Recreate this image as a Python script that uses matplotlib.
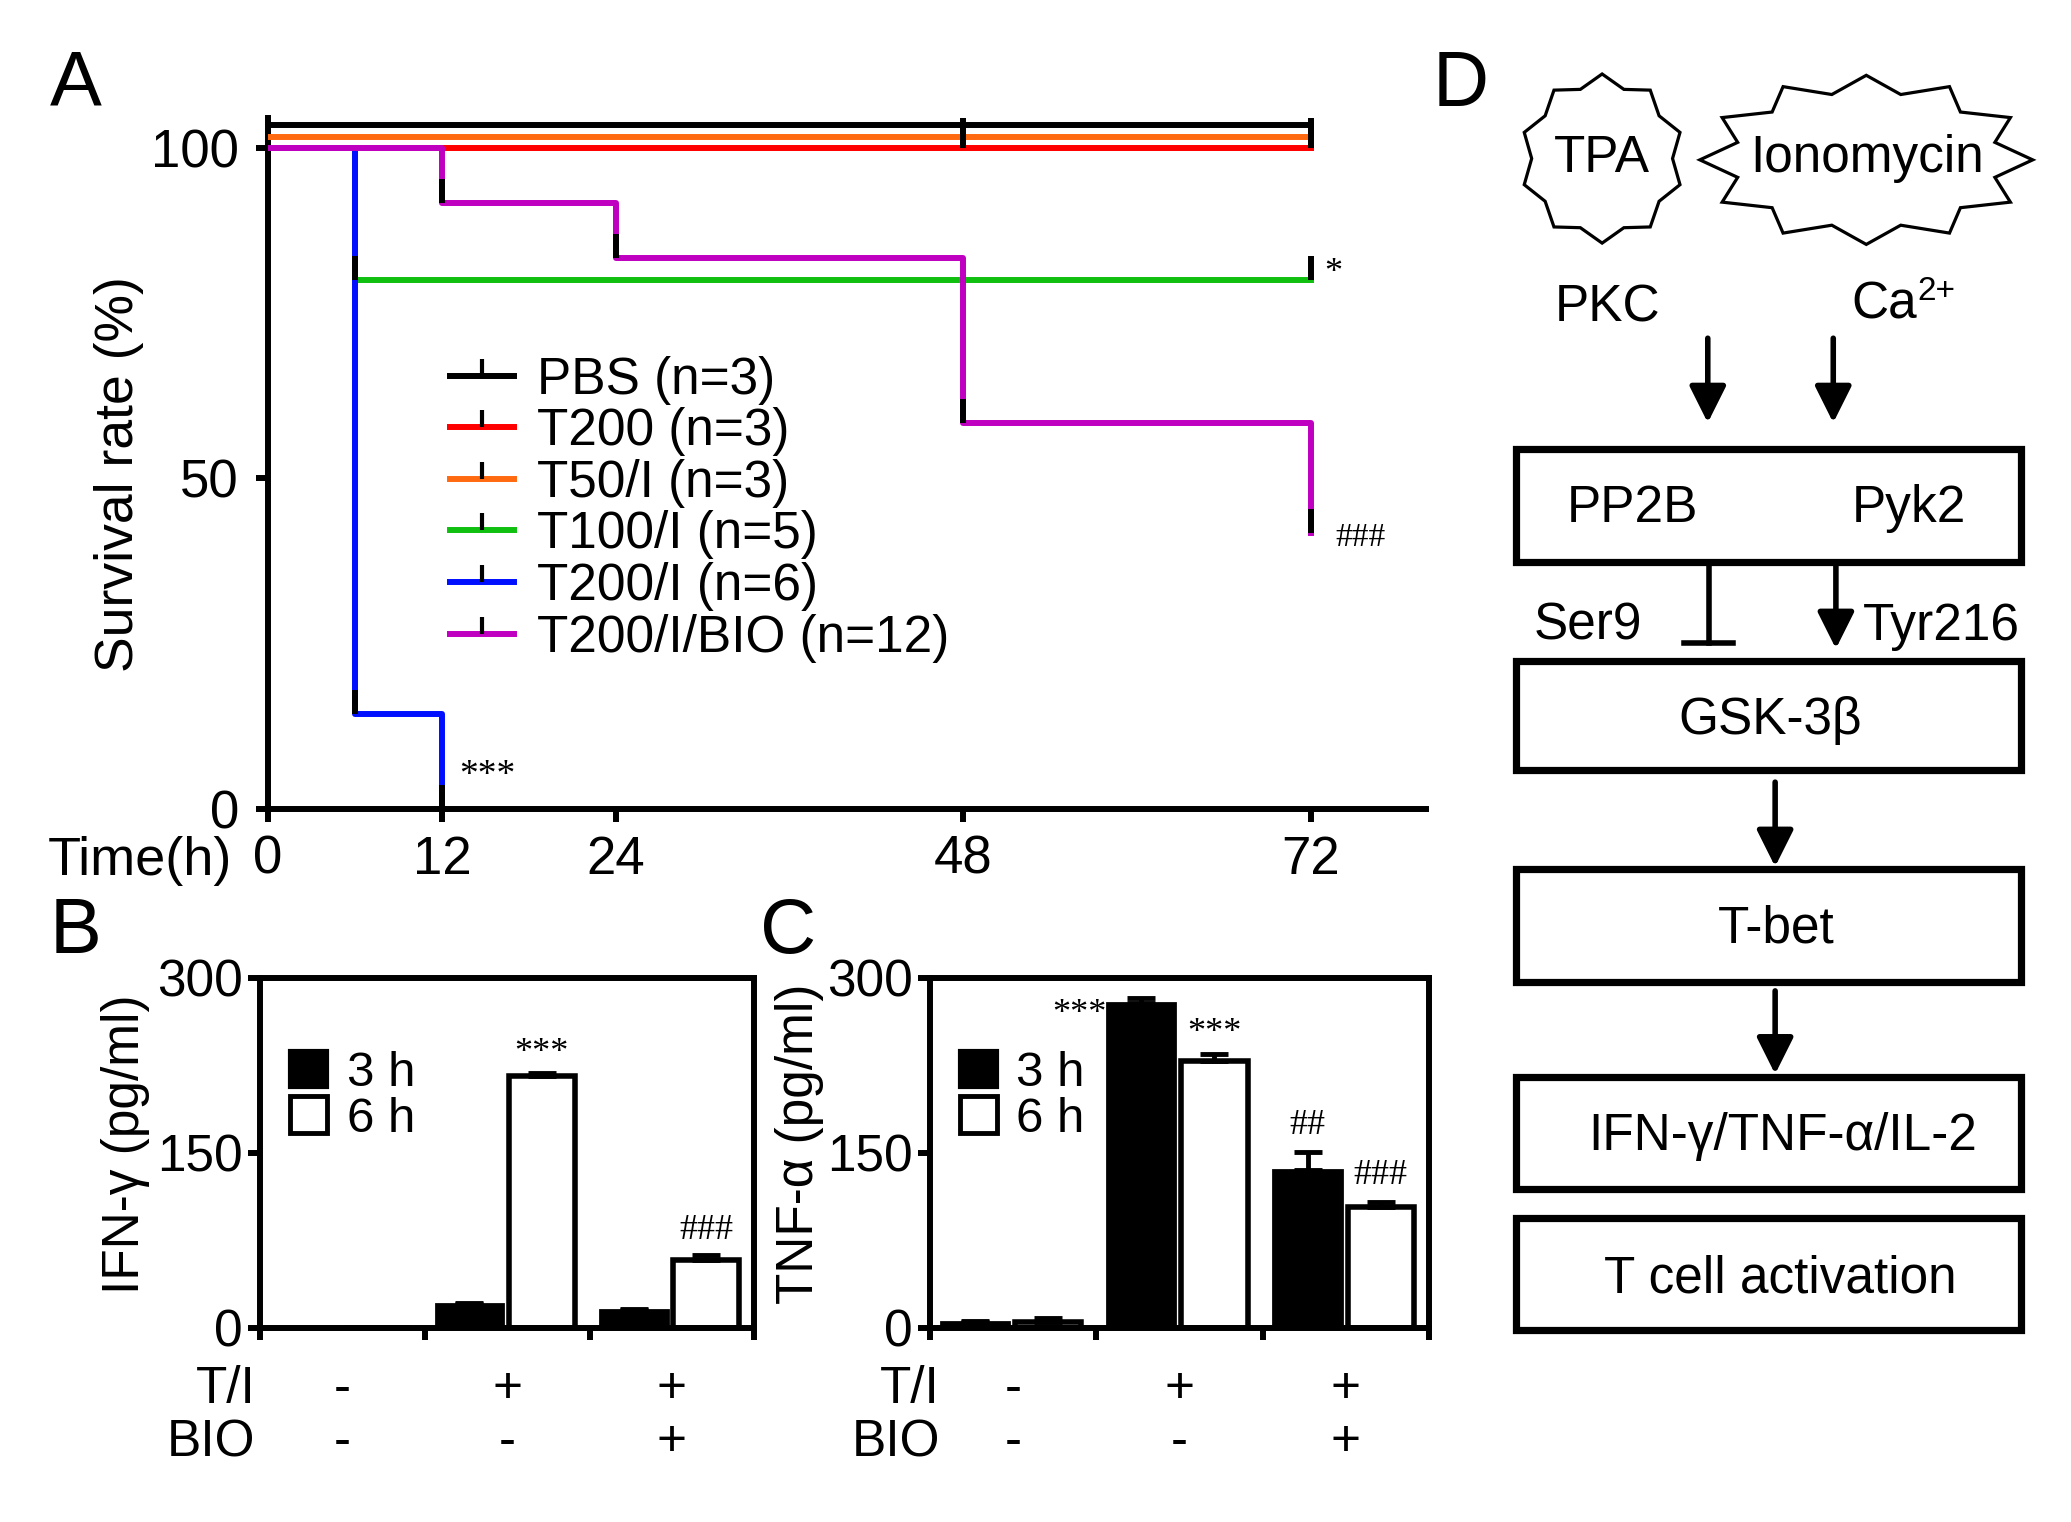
import numpy as np
import matplotlib.pyplot as plt
from matplotlib.lines import Line2D
from matplotlib.patches import Patch, Rectangle, Polygon
from matplotlib.path import Path

plt.rcParams['font.family'] = ['Liberation Sans', 'DejaVu Sans']
SERIF = ['Liberation Serif', 'DejaVu Serif']

# --- PANEL A: supervivencia ---
grupos = ['PBS (n=3)', 'T200 (n=3)', 'T50/I (n=3)', 'T100/I (n=5)', 'T200/I (n=6)', 'T200/I/BIO (n=12)']
tiempos = [[0, 72], [0, 72], [0, 72], [0, 6, 72], [0, 6, 12], [0, 12, 24, 48, 72]]
supervivencia = [[100, 100], [100, 100], [100, 100], [100, 80, 80], [100, 14.3, 0],
                 [100, 91.7, 83.3, 58.3, 41.7]]
marcas = [[], [48, 72], [48, 72], [6, 72], [6, 12], [12, 24, 48, 72]]
colores = ['black', '#ff0000', '#ff6a10', '#10c010', '#0010ff', '#c000c0']
desplaz = [3.5, 0, 1.7, 0, 0, 0]   # solo para separar visualmente las lineas en 100
x_ticks_a = [0, 12, 24, 48, 72]
y_ticks_a = [0, 50, 100]

# --- PANELES B y C: citoquinas ---
grupos_bar = ['g1', 'g2', 'g3']
ti_flags = ['-', '+', '+']
bio_flags = ['-', '-', '+']
ifn_3h = [0, 20.5, 15]
ifn_3h_err = [0, 1, 1.5]
ifn_6h = [0, 216, 58]
ifn_6h_err = [0, 2, 4.5]
tnf_3h = [5, 278.5, 135.5]
tnf_3h_err = [0.5, 4, 15]
tnf_6h = [5, 229, 103.5]
tnf_6h_err = [3, 6, 4]
sig_ifn = [(1, '***', 17), (2, '###', 21)]          # (grupo, texto, separacion) sobre barras 6 h
sig_tnf_6h = [(1, '***', 17), (2, '###', 23)]
sig_tnf_3h = [(2, '##', 23)]

W, H = 1568.0, 1152.0
fig = plt.figure(figsize=(20.71, 15.22), dpi=100)

def fr(x0, y0, x1, y1):
    return [x0 / W, 1 - y1 / H, (x1 - x0) / W, (y1 - y0) / H]

LW = 4.3
tick_up = Path([(0, 0), (0, 1)])

# ---------- Panel A ----------
ax = fig.add_axes(fr(203, 89.5, 1080, 612))
for i in range(len(grupos)):
    t = np.array(tiempos[i], dtype=float)
    s = np.array(supervivencia[i], dtype=float) + desplaz[i]
    ax.step(t, s, where='post', color=colores[i], lw=LW, zorder=3 + (i == 0))
    if marcas[i]:
        m = np.array(marcas[i], dtype=float)
        idx = np.searchsorted(t, m, side='right') - 1
        ax.plot(m, s[idx], ls='none', marker=tick_up, ms=34, mew=LW, mec='black', zorder=6)
ax.set_xlim(0, 80)
ax.set_ylim(0, 104.5)
for sp in ['top', 'right']:
    ax.spines[sp].set_visible(False)
for sp in ['left', 'bottom']:
    ax.spines[sp].set_linewidth(LW)
ax.set_xticks(x_ticks_a)
ax.set_yticks(y_ticks_a)
ax.tick_params(axis='both', direction='out', length=9, width=LW, labelsize=38)
ax.tick_params(axis='x', pad=10)
ax.tick_params(axis='y', pad=12)
handles = [Line2D([0], [0], color=c, lw=LW, marker=tick_up, ms=24, mew=3, mec='black')
           for c in colores]
ax.legend(handles, grupos, loc='upper left', bbox_to_anchor=(0.157, 0.656), frameon=False,
          fontsize=37, handlelength=1.25, handletextpad=0.45, labelspacing=0.05,
          borderpad=0, borderaxespad=0, numpoints=1)
ax.text(73.6, 81, '*', fontsize=26, family=SERIF, ha='center', va='center')
ax.text(73.7, 41, '###', fontsize=24, family=SERIF, ha='left', va='center')
ax.text(13.2, 5, '***', fontsize=27, family=SERIF, ha='left', va='center')
fig.text(106 / W, 1 - 652 / H, 'Time(h)', fontsize=39, ha='center', va='center')
fig.text(90 / W, 1 - 359 / H, 'Survival rate (%)', fontsize=38.5, rotation=90,
         ha='center', va='center')

# ---------- Paneles B y C ----------
def panel_barras(pos, v3, e3, v6, e6, ylab, ylab_x, row_x):
    axb = fig.add_axes(fr(*pos))
    xg = np.arange(len(grupos_bar)) + 0.5
    x3 = xg - 0.23
    x6 = xg + 0.21
    axb.bar(x3, v3, width=0.41, color='black', edgecolor='black', lw=2, zorder=2)
    axb.errorbar(x3, v3, yerr=[np.zeros(len(e3)), e3], fmt='none', ecolor='black',
                 elinewidth=3.5, capsize=10, capthick=3.5, zorder=3)
    axb.bar(x6, v6, width=0.40, color='white', edgecolor='black', lw=4, zorder=2)
    axb.errorbar(x6, v6, yerr=[np.zeros(len(e6)), e6], fmt='none', ecolor='black',
                 elinewidth=3.5, capsize=10, capthick=3.5, zorder=3)
    axb.set_xlim(0, 3)
    axb.set_ylim(0, 300)
    axb.set_yticks([0, 150, 300])
    axb.set_xticks([0, 1, 2, 3])
    axb.set_xticklabels([])
    for sp in axb.spines.values():
        sp.set_linewidth(LW)
    axb.tick_params(axis='both', direction='out', length=8.5, width=LW, labelsize=37, pad=4)
    hb = [Patch(facecolor='black', edgecolor='black', lw=3),
          Patch(facecolor='white', edgecolor='black', lw=3.5)]
    axb.legend(hb, ['3 h', '6 h'], loc='upper left', bbox_to_anchor=(0.06, 0.79),
               frameon=False, fontsize=35.5, handlelength=0.75, handleheight=0.75,
               handletextpad=0.4, labelspacing=0.0, borderpad=0, borderaxespad=0)
    tr = axb.get_xaxis_transform()
    axb.text(row_x, -0.176, 'T/I', fontsize=37, ha='right', va='center', transform=tr)
    axb.text(row_x, -0.328, 'BIO', fontsize=37, ha='right', va='center', transform=tr)
    for k in range(len(grupos_bar)):
        axb.text(xg[k], -0.176, ti_flags[k], fontsize=37, ha='center', va='center', transform=tr)
        axb.text(xg[k], -0.328, bio_flags[k], fontsize=37, ha='center', va='center', transform=tr)
    fig.text(ylab_x / W, 1 - 866 / H, ylab, fontsize=37, rotation=90, ha='center', va='center')
    return axb, x3, x6

axB, x3b, x6b = panel_barras((197, 740, 571, 1005), ifn_3h, ifn_3h_err, ifn_6h, ifn_6h_err,
                             'IFN-\u03b3 (pg/ml)', 95, -0.03)
for g, s, d in sig_ifn:
    axB.text(x6b[g], ifn_6h[g] + ifn_6h_err[g] + d, s, fontsize=26, family=SERIF,
             ha='center', va='center')

axC, x3c, x6c = panel_barras((704, 740, 1082, 1005), tnf_3h, tnf_3h_err, tnf_6h, tnf_6h_err,
                             'TNF-\u03b1 (pg/ml)', 605, 0.06)
for g, s, d in sig_tnf_6h:
    axC.text(x6c[g], tnf_6h[g] + tnf_6h_err[g] + d, s, fontsize=26, family=SERIF,
             ha='center', va='center')
for g, s, d in sig_tnf_3h:
    axC.text(x3c[g], tnf_3h[g] + tnf_3h_err[g] + d, s, fontsize=26, family=SERIF,
             ha='center', va='center')
axC.text(x3c[1] - 0.21, tnf_3h[1] - 10, '***', fontsize=26, family=SERIF,
         ha='right', va='center')

# letras de panel
for letra, (lx, ly) in zip('ABCD', [(57, 64), (57, 706), (597, 706), (1106, 65)]):
    fig.text(lx / W, 1 - ly / H, letra, fontsize=56, ha='center', va='center')

# ---------- Panel D: esquema ----------
axd = fig.add_axes([0, 0, 1, 1])
axd.set_xlim(0, W)
axd.set_ylim(H, 0)
axd.axis('off')
axd.patch.set_alpha(0)

def estrella(cx, cy, rx, ry, n, ratio):
    ang = np.pi / 2 + np.arange(2 * n) * np.pi / n
    r = np.where(np.arange(2 * n) % 2 == 0, 1.0, ratio)
    return np.column_stack([cx + rx * r * np.cos(ang), cy - ry * r * np.sin(ang)])

axd.add_patch(Polygon(estrella(1213, 120, 62, 64, 10, 0.86), closed=True, fill=False, lw=2.3))
axd.add_patch(Polygon(estrella(1413, 121, 126, 64, 12, 0.80), closed=True, fill=False, lw=2.3))
fs_d = 37
axd.text(1213, 120, 'TPA', fontsize=fs_d, ha='center', va='center')
axd.text(1414, 120, 'Ionomycin', fontsize=fs_d, ha='center', va='center')
axd.text(1217, 233, 'PKC', fontsize=fs_d, ha='center', va='center')
axd.text(1402, 231, 'Ca', fontsize=fs_d, ha='left', va='center')
axd.text(1452, 221, '2+', fontsize=24, ha='left', va='center')

cajas = [(340, 425), (500, 583), (658, 743), (815, 900), (922, 1007)]
for y0, y1 in cajas:
    axd.add_patch(Rectangle((1148, y0), 382, y1 - y0, fill=False, lw=5.2))
axd.text(1236, 385, 'PP2B', fontsize=fs_d, ha='center', va='center')
axd.text(1445, 385, 'Pyk2', fontsize=fs_d, ha='center', va='center')
axd.text(1340, 545, 'GSK-3\u03b2', fontsize=fs_d, ha='center', va='center')
axd.text(1345, 703, 'T-bet', fontsize=fs_d, ha='center', va='center')
axd.text(1350, 860, 'IFN-\u03b3/TNF-\u03b1/IL-2', fontsize=fs_d, ha='center', va='center')
axd.text(1348, 968, 'T cell activation', fontsize=fs_d, ha='center', va='center')
axd.text(1202, 474, 'Ser9', fontsize=fs_d, ha='center', va='center')
axd.text(1470, 474, 'Tyr216', fontsize=fs_d, ha='center', va='center')

flechas = [(1293, 256, 320), (1388, 256, 320), (1390, 427, 491), (1344, 592, 656), (1344, 750, 813)]
for fx, fy0, fy1 in flechas:
    axd.annotate('', xy=(fx, fy1), xytext=(fx, fy0),
                 arrowprops=dict(arrowstyle='-|>', lw=4, color='black', mutation_scale=56,
                                 shrinkA=0, shrinkB=0))
axd.plot([1294, 1294], [427, 487], color='black', lw=4)
axd.plot([1275, 1312], [487, 487], color='black', lw=4)

fig.savefig('out.png', dpi=100)
